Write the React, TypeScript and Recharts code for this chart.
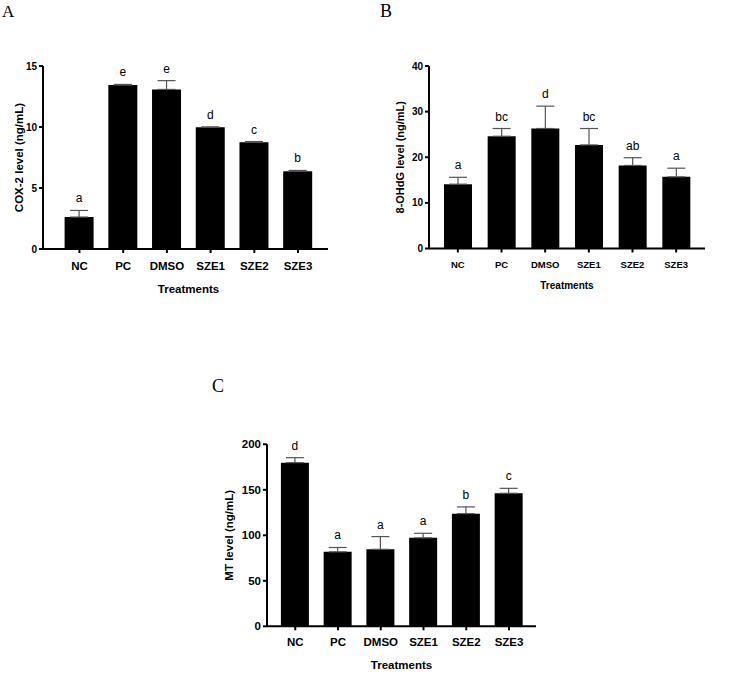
import React from "react"
import { Bar, BarChart, ErrorBar, LabelList, XAxis, YAxis } from "recharts"

const groups = ["NC", "PC", "DMSO", "SZE1", "SZE2", "SZE3"]

const cox2Mean = [2.62, 13.44, 13.08, 9.97, 8.76, 6.38]
const cox2Err = [0.54, 0.05, 0.72, 0.04, 0.05, 0.06]
const cox2Letters = ["a", "e", "e", "d", "c", "b"]
const cox2Ticks = [0, 5, 10, 15]

const ohdgMean = [14.1, 24.6, 26.3, 22.7, 18.2, 15.7]
const ohdgErr = [1.5, 1.7, 4.9, 3.6, 1.7, 1.9]
const ohdgLetters = ["a", "bc", "d", "bc", "ab", "a"]
const ohdgTicks = [0, 10, 20, 30, 40]

const mtMean = [179.8, 81.8, 84.6, 97.2, 123.8, 146.2]
const mtErr = [5.5, 4.8, 14.0, 5.0, 7.4, 5.4]
const mtLetters = ["d", "a", "a", "a", "b", "c"]
const mtTicks = [0, 50, 100, 150, 200]

const SANS = "'Liberation Sans', Arial, sans-serif"
const SERIF = "'Liberation Serif', 'Times New Roman', serif"

interface PanelProps {
  means: number[]
  errs: number[]
  letters: string[]
  ticks: number[]
  yLabel: string
  width: number
  height: number
  margin: { top: number; right: number; left: number; bottom: number }
  yWidth: number
  xHeight: number
  padL: number
  padR: number
  barSize: number
  xTickFont: number
  yTickFont: number
  yLabelFont: number
  xLabelFont: number
  xTickGap: number
  yLabelDx: number
  xLabelDx: number
}

function Panel(p: PanelProps) {
  const rows = groups.map((g, i) => ({ name: g, mean: p.means[i], err: [0, p.errs[i]] }))

  const renderLetter = (props: any) => {
    const { x, y, width, height, value, index } = props
    const v = Number(value)
    if (!v) return null
    const pxPerUnit = Number(height) / v
    const top = Number(y) - p.errs[index] * pxPerUnit
    return (
      <text
        x={Number(x) + Number(width) / 2}
        y={top - 8}
        textAnchor="middle"
        fontSize={12}
        fontFamily={SANS}
        fill="#000"
      >
        {p.letters[index]}
      </text>
    )
  }

  return (
    <BarChart width={p.width} height={p.height} data={rows} margin={p.margin}>
      <XAxis
        dataKey="name"
        height={p.xHeight}
        padding={{ left: p.padL, right: p.padR }}
        axisLine={{ stroke: "#000", strokeWidth: 2 }}
        tickLine={{ stroke: "#000", strokeWidth: 2 }}
        tickSize={4}
        tickMargin={p.xTickGap}
        tick={{ fill: "#000", fontSize: p.xTickFont, fontWeight: 700, fontFamily: SANS }}
        interval={0}
        label={{
          value: "Treatments",
          position: "insideBottom",
          offset: 0,
          dx: p.xLabelDx,
          fill: "#000",
          fontSize: p.xLabelFont,
          fontWeight: 700,
          fontFamily: SANS,
        }}
      />
      <YAxis
        width={p.yWidth}
        domain={[p.ticks[0], p.ticks[p.ticks.length - 1]]}
        ticks={p.ticks}
        interval={0}
        axisLine={{ stroke: "#000", strokeWidth: 2 }}
        tickLine={{ stroke: "#000", strokeWidth: 2 }}
        tickSize={4}
        tickMargin={2}
        tick={{ fill: "#000", fontSize: p.yTickFont, fontWeight: 700, fontFamily: SANS }}
        label={{
          value: p.yLabel,
          angle: -90,
          position: "center",
          dx: p.yLabelDx,
          fill: "#000",
          fontSize: p.yLabelFont,
          fontWeight: 700,
          fontFamily: SANS,
        }}
      />
      <Bar dataKey="mean" fill="#000" barSize={p.barSize} isAnimationActive={false}>
        <ErrorBar dataKey="err" width={9} stroke="#555" strokeWidth={1.2} direction="y" />
        <LabelList dataKey="mean" content={renderLetter} />
      </Bar>
    </BarChart>
  )
}

const letterStyle = (left: number, top: number, size: number): React.CSSProperties => ({
  position: "absolute",
  left,
  top,
  fontFamily: SERIF,
  fontSize: size,
  lineHeight: `${size}px`,
  color: "#000",
})

export default function App() {
  return (
    <div
      style={{
        position: "absolute",
        left: 0,
        top: 0,
        width: 738,
        height: 685,
        background: "#fff",
        overflow: "hidden",
      }}
    >
      <div style={letterStyle(2, 3, 17)}>A</div>
      <div style={letterStyle(380, 2, 18)}>B</div>
      <div style={letterStyle(212, 377, 18)}>C</div>

      <div style={{ position: "absolute", left: 0, top: 0 }}>
        <Panel
          means={cox2Mean}
          errs={cox2Err}
          letters={cox2Letters}
          ticks={cox2Ticks}
          yLabel="COX-2 level (ng/mL)"
          width={370}
          height={310}
          margin={{ top: 66, right: 42, left: 0, bottom: 17 }}
          yWidth={43}
          xHeight={44}
          padL={14.6}
          padR={8.1}
          barSize={29}
          xTickFont={11.5}
          yTickFont={10}
          yLabelFont={11.5}
          xLabelFont={11.5}
          xTickGap={9}
          yLabelDx={-3}
          xLabelDx={3}
        />
      </div>

      <div style={{ position: "absolute", left: 370, top: 0 }}>
        <Panel
          means={ohdgMean}
          errs={ohdgErr}
          letters={ohdgLetters}
          ticks={ohdgTicks}
          yLabel="8-OHdG level (ng/mL)"
          width={368}
          height={310}
          margin={{ top: 66, right: 33, left: 0, bottom: 21.5 }}
          yWidth={59}
          xHeight={40}
          padL={7}
          padR={7}
          barSize={28}
          xTickFont={9.5}
          yTickFont={10}
          yLabelFont={11}
          xLabelFont={10}
          xTickGap={8.4}
          yLabelDx={1}
          xLabelDx={0}
        />
      </div>

      <div style={{ position: "absolute", left: 220, top: 360 }}>
        <Panel
          means={mtMean}
          errs={mtErr}
          letters={mtLetters}
          ticks={mtTicks}
          yLabel="MT level (ng/mL)"
          width={320}
          height={325}
          margin={{ top: 84.3, right: 4, left: 0, bottom: 15.9 }}
          yWidth={47}
          xHeight={42.8}
          padL={6.9}
          padR={5.6}
          barSize={28}
          xTickFont={11.5}
          yTickFont={11.5}
          yLabelFont={11.5}
          xLabelFont={11.5}
          xTickGap={7.3}
          yLabelDx={-14.5}
          xLabelDx={0}
        />
      </div>
    </div>
  )
}
